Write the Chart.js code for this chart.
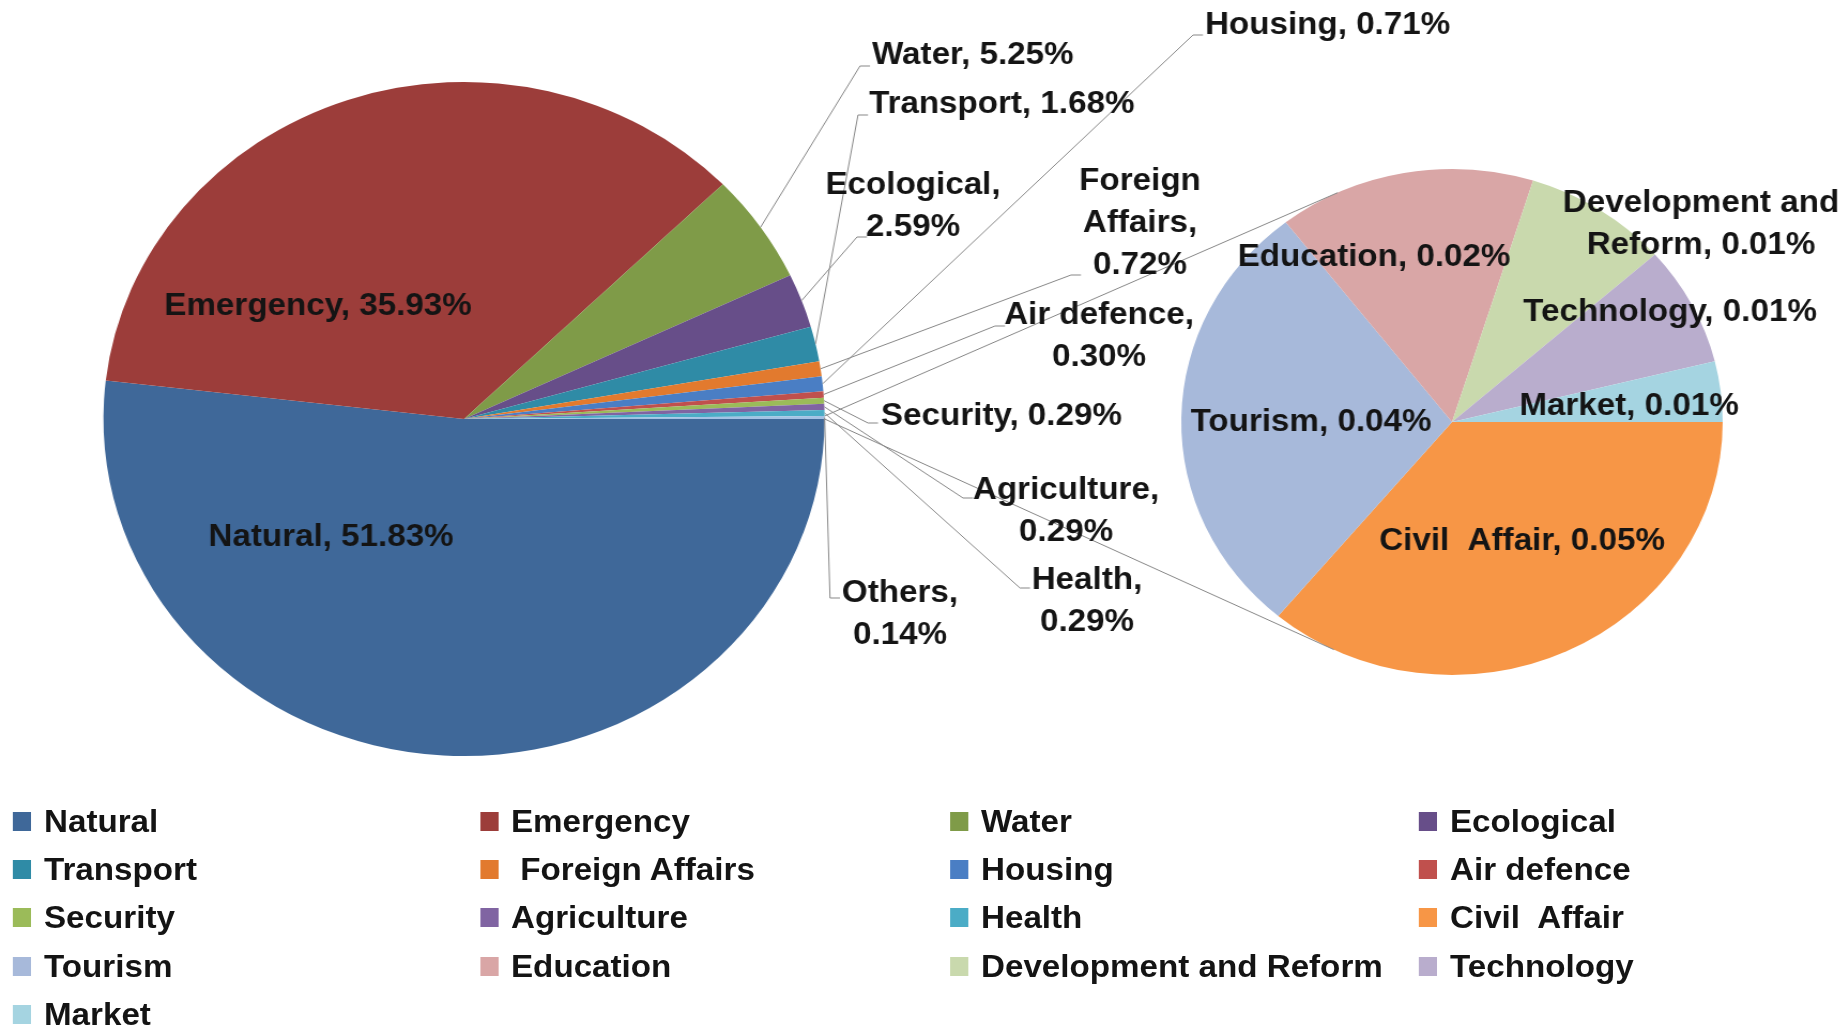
<!DOCTYPE html>
<html lang="en">
<head>
<meta charset="UTF-8">
<title>Pie of pie</title>
<style>
  body { margin: 0; background: #fff; overflow: hidden; }
  /* the reference is stretched a little horizontally, so the whole chart is too */
  #wrap {
    position: absolute; left: 0; top: 0;
    width: 1726px; height: 1029px;
    transform: scaleX(1.07); transform-origin: 0 0;
    font-family: "Liberation Sans", Arial, sans-serif;
  }
  #wrap canvas { position: absolute; left: 0; top: 0; }
  .lg-box { position: absolute; width: 17px; height: 19px; }
  .lg-text { position: absolute; font-weight: bold; font-size: 31px; color: #141414; white-space: pre; line-height: 1; }
</style>
<script src="https://cdn.jsdelivr.net/npm/chart.js"></script>
</head>
<body>
<div id="wrap">
  <canvas id="mainPie" width="1726" height="800"></canvas>
  <canvas id="subPie" width="1726" height="800"></canvas>
  <div id="legend"></div>
</div>

<script>
    // data
    const mainLabels = ['Natural', 'Emergency', 'Water', 'Ecological', 'Transport', 'Foreign Affairs',
                        'Housing', 'Air defence', 'Security', 'Agriculture', 'Health', 'Others'];
    const mainValues = [51.83, 35.93, 5.25, 2.59, 1.68, 0.72, 0.71, 0.30, 0.29, 0.29, 0.29, 0.14];
    const mainColors = ['#3F6899', '#9C3D3A', '#7F9B48', '#674E89', '#2F8BA6', '#E27A2E',
                        '#4A7EC4', '#C0504D', '#9BBB59', '#8064A2', '#4BACC6', '#A3C2E4'];

    // breakdown of "Others" (labels are rounded to 2 decimals)
    const subLabels = ['Civil  Affair', 'Tourism', 'Education', 'Development and Reform', 'Technology', 'Market'];
    const subValues = [0.0505, 0.0397, 0.0215, 0.0121, 0.0107, 0.0054];
    const subColors = ['#F79646', '#A7B9DA', '#D9A6A6', '#C9D9AD', '#B9ADCD', '#A5D4E1'];

    // layout (reference pixel coords, x divided by SX when drawn)
    const SX = 1.07;
    const CW = 1726, CH = 800;
    const LINE_H = 42;
    const MAIN_C = { x: 464, y: 419, r: 337 };
    const SUB_C = { x: 1452, y: 422, r: 253 };

    const mainPos = {
        'Natural':         { x: 331, y: 537 },
        'Emergency':       { x: 318, y: 306 },
        'Water':           { x: 872, y: 55, align: 'left', ax: 860, ay: 66 },
        'Ecological':      { x: 913, y: 185, wrap: [1, 1], ax: 857, ay: 237 },
        'Transport':       { x: 869, y: 104, align: 'left', ax: 858, ay: 115 },
        'Foreign Affairs': { x: 1140, y: 181, wrap: [1, 1, 1], ax: 1071, ay: 275 },
        'Housing':         { x: 1205, y: 25, align: 'left', ax: 1193, ay: 35 },
        'Air defence':     { x: 1099, y: 315, wrap: [2, 1], ax: 995, ay: 326 },
        'Security':        { x: 881, y: 416, align: 'left', ax: 868, ay: 423 },
        'Agriculture':     { x: 1066, y: 490, wrap: [1, 1], ax: 963, ay: 498 },
        'Health':          { x: 1087, y: 580, wrap: [1, 1], ax: 1020, ay: 588 },
        'Others':          { x: 900, y: 593, wrap: [1, 1], ax: 830, ay: 598 }
    };
    const subPos = {
        'Civil  Affair':          { x: 1522, y: 541 },
        'Tourism':                { x: 1311, y: 422 },
        'Education':              { x: 1374, y: 257 },
        'Development and Reform': { x: 1701, y: 203, wrap: [2, 2] },
        'Technology':             { x: 1670, y: 312 },
        'Market':                 { x: 1629, y: 406 }
    };

    const legendCols = [13, 480, 950, 1419];
    const legendRows = [822, 870, 918, 967, 1015];

    function ux(x) { return x / SX; }

    function drawLabel(ctx, text, p) {
        let lines = [text];
        if (p.wrap) {
            const words = text.split(' ');
            lines = [];
            let i = 0;
            p.wrap.forEach(n => { lines.push(words.slice(i, i + n).join(' ')); i += n; });
        }
        ctx.textAlign = p.align || 'center';
        lines.forEach((l, k) => ctx.fillText(l, ux(p.x), p.y + k * LINE_H));
    }

    function edgePoint(arc, ang) {
        return { x: arc.x + Math.cos(ang) * arc.outerRadius, y: arc.y + Math.sin(ang) * arc.outerRadius };
    }

    // tangent point on circle (cx,cy,r) seen from p, side = +1 top / -1 bottom
    function tangentPoint(p, cx, cy, r, side) {
        const d = Math.hypot(p.x - cx, p.y - cy);
        const th = Math.atan2(p.y - cy, p.x - cx);
        const a = th + side * Math.acos(r / d);
        return { x: cx + Math.cos(a) * r, y: cy + Math.sin(a) * r };
    }

    function pieOptions(c) {
        const left = ux(c.x) - c.r, top = c.y - c.r;
        return {
            responsive: false,
            animation: false,
            events: [],
            rotation: 90,
            layout: { padding: { left: left, top: top, right: CW - left - 2 * c.r, bottom: CH - top - 2 * c.r } },
            plugins: { legend: { display: false }, tooltip: { enabled: false } }
        };
    }

    const mainChart = new Chart(document.getElementById('mainPie'), {
        type: 'pie',
        data: {
            labels: mainLabels,
            datasets: [{ data: mainValues, backgroundColor: mainColors, borderWidth: 0, hoverOffset: 0 }]
        },
        options: pieOptions(MAIN_C)
    });

    // lines + all labels, drawn on the top canvas (same size/origin as the main one)
    const labelPlugin = {
        id: 'pieLabels',
        afterDatasetsDraw(chart) {
            const ctx = chart.ctx;
            const mArcs = mainChart.getDatasetMeta(0).data;
            const sArcs = chart.getDatasetMeta(0).data;
            ctx.save();
            ctx.strokeStyle = '#878787';
            ctx.lineWidth = 1;

            // series lines from "Others" to the second pie
            const oth = mArcs[mArcs.length - 1];
            const s0 = sArcs[0];
            const pTop = edgePoint(oth, oth.startAngle);
            const pBot = edgePoint(oth, oth.endAngle);
            const tTop = tangentPoint(pTop, s0.x, s0.y, s0.outerRadius, 1);
            const tBot = tangentPoint(pBot, s0.x, s0.y, s0.outerRadius, -1);
            ctx.beginPath();
            ctx.moveTo(pTop.x, pTop.y); ctx.lineTo(tTop.x, tTop.y);
            ctx.moveTo(pBot.x, pBot.y); ctx.lineTo(tBot.x, tBot.y);
            ctx.stroke();

            // leader lines
            mainLabels.forEach((name, i) => {
                const p = mainPos[name];
                if (p.ax === undefined) return;
                const arc = mArcs[i];
                const e = edgePoint(arc, (arc.startAngle + arc.endAngle) / 2);
                ctx.beginPath();
                ctx.moveTo(e.x, e.y);
                ctx.lineTo(ux(p.ax), p.ay);
                ctx.lineTo(ux(p.ax + 10), p.ay);
                ctx.stroke();
            });

            ctx.fillStyle = '#141414';
            ctx.font = 'bold 31px "Liberation Sans", Arial, sans-serif';
            ctx.textBaseline = 'middle';
            mainLabels.forEach((name, i) => {
                drawLabel(ctx, name + ', ' + mainValues[i].toFixed(2) + '%', mainPos[name]);
            });
            subLabels.forEach((name, i) => {
                drawLabel(ctx, name + ', ' + subValues[i].toFixed(2) + '%', subPos[name]);
            });
            ctx.restore();
        }
    };

    new Chart(document.getElementById('subPie'), {
        type: 'pie',
        data: {
            labels: subLabels,
            datasets: [{ data: subValues, backgroundColor: subColors, borderWidth: 0, hoverOffset: 0 }]
        },
        options: pieOptions(SUB_C),
        plugins: [labelPlugin]
    });

    // legend, 4 columns
    const legend = document.getElementById('legend');
    const legendNames = mainLabels.slice(0, -1).concat(subLabels);
    const legendColors = mainColors.slice(0, -1).concat(subColors);
    legendNames.forEach((name, i) => {
        const col = i % 4, row = Math.floor(i / 4);
        const y = legendRows[row];
        const box = document.createElement('div');
        box.className = 'lg-box';
        box.style.left = ux(legendCols[col]) + 'px';
        box.style.top = (y - 10) + 'px';
        box.style.background = legendColors[i];
        const txt = document.createElement('div');
        txt.className = 'lg-text';
        txt.style.left = ux(legendCols[col] + 31) + 'px';
        txt.style.top = (y - 16) + 'px';
        txt.textContent = name === 'Foreign Affairs' ? ' ' + name : name;
        legend.appendChild(box);
        legend.appendChild(txt);
    });
</script>
</body>
</html>
